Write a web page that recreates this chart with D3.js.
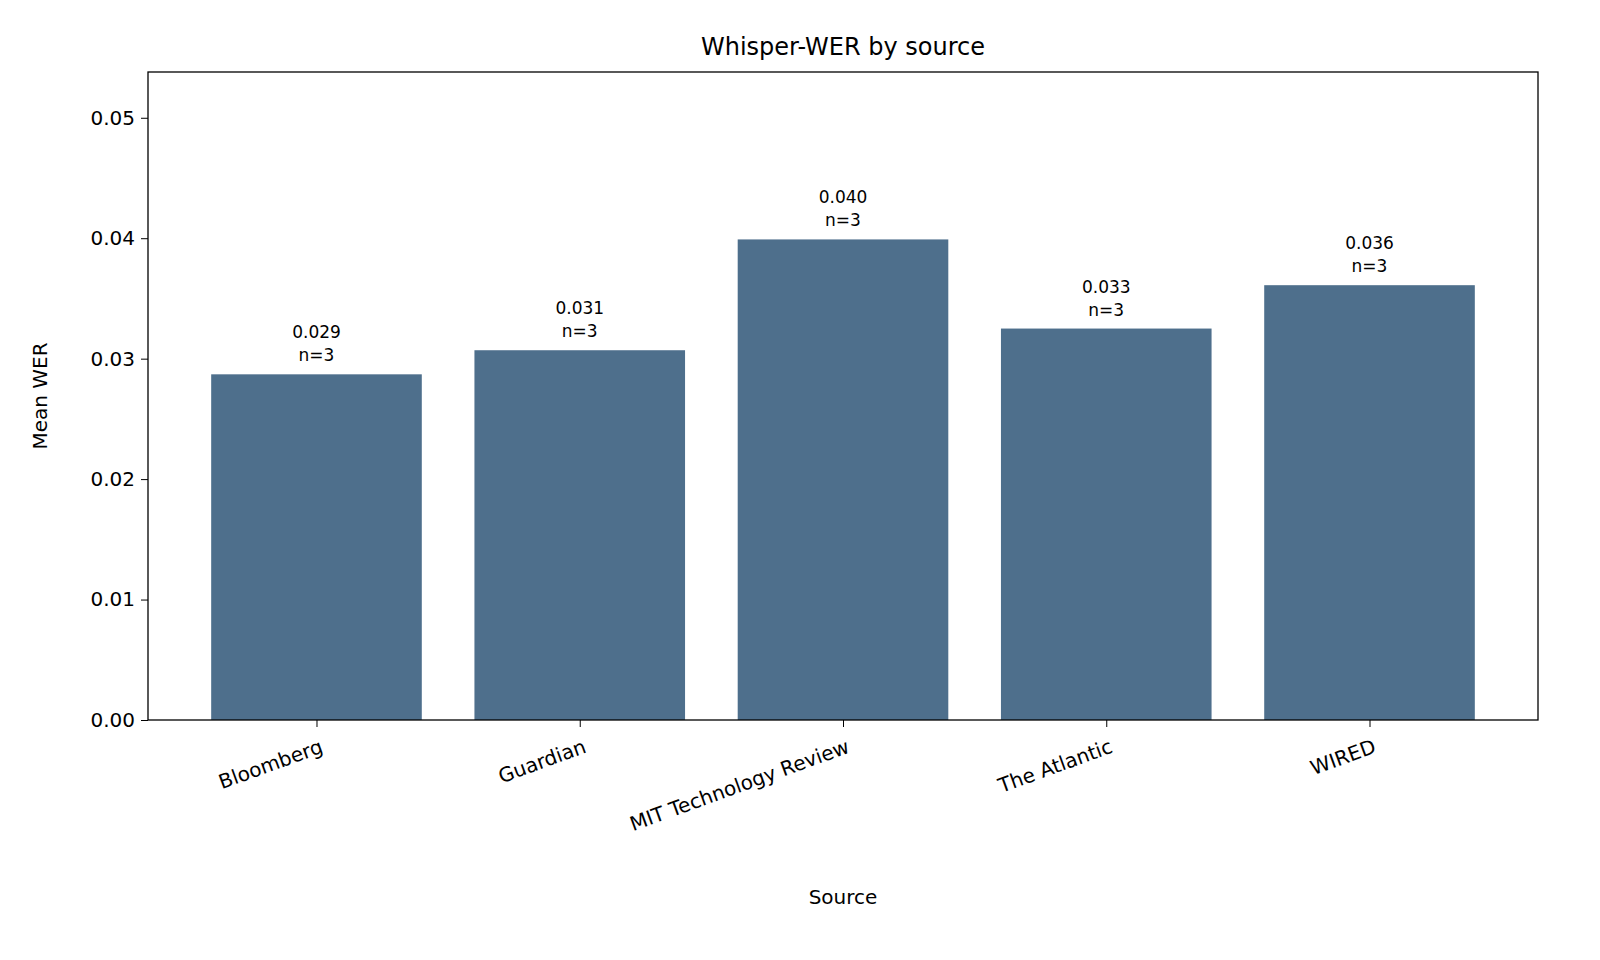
<!DOCTYPE html>
<html><head><meta charset="utf-8">
<script src="https://cdn.jsdelivr.net/npm/d3@7"></script>
<style>body{margin:0;background:#fff}text{font-family:"DejaVu Sans",sans-serif;fill:#000}</style>
</head><body><svg id="chart" width="1600" height="960"></svg>
<script>
const sources = ["Bloomberg", "Guardian", "MIT Technology Review", "The Atlantic", "WIRED"];
const meanWer = [0.0287, 0.0307, 0.0399, 0.0325, 0.0361];
const counts = [3, 3, 3, 3, 3];
const yTicks = [0, 0.01, 0.02, 0.03, 0.04, 0.05];

const m = {left: 148, right: 1538, top: 72, bottom: 720};
const svg = d3.select("#chart");
const x = d3.scaleLinear().domain([-0.64, sources.length - 1 + 0.64]).range([m.left, m.right]);
const y = d3.scaleLinear().domain([0, 0.0538]).range([m.bottom, m.top]);
const bw = x(0.8) - x(0);

svg.selectAll("rect.bar").data(meanWer).enter().append("rect")
  .attr("x", (d, i) => x(i) - bw / 2).attr("width", bw)
  .attr("y", d => y(d)).attr("height", d => y(0) - y(d))
  .attr("fill", "#4e6f8c");

const lab = svg.selectAll("g.lab").data(meanWer).enter().append("g")
  .attr("transform", (d, i) => `translate(${x(i)},${y(d) - 13})`);
lab.append("text").attr("text-anchor", "middle").attr("y", 0).style("font-size", "17px").text((d, i) => "n=" + counts[i]);
lab.append("text").attr("text-anchor", "middle").attr("y", -23).style("font-size", "17px").text(d => d.toFixed(3));

svg.append("g").attr("transform", `translate(${m.left},0)`)
  .call(d3.axisLeft(y).tickValues(yTicks).tickFormat(d => d.toFixed(2)).tickSize(7).tickPadding(6))
  .call(g => g.select(".domain").remove())
  .selectAll("text").style("font-size", "20px").attr("font-family", "DejaVu Sans");

const xa = svg.append("g").attr("transform", `translate(0,${m.bottom})`)
  .call(d3.axisBottom(x).tickValues(d3.range(sources.length)).tickFormat(i => sources[i]).tickSize(7));
xa.select(".domain").remove();
xa.selectAll("text").style("font-size", "20px").attr("text-anchor", "end")
  .attr("x", 0).attr("y", 0).attr("dy", "0.75em").attr("transform", "translate(2,18) rotate(-20)");

svg.append("rect").attr("x", m.left).attr("y", m.top).attr("width", m.right - m.left)
  .attr("height", m.bottom - m.top).attr("fill", "none").attr("stroke", "#000").attr("stroke-width", 1.3);

svg.append("text").attr("x", (m.left + m.right) / 2).attr("y", 55).attr("text-anchor", "middle")
  .style("font-size", "24px").text("Whisper-WER by source");
svg.append("text").attr("x", (m.left + m.right) / 2).attr("y", 904).attr("text-anchor", "middle")
  .style("font-size", "20px").text("Source");
svg.append("text").attr("transform", `translate(47,${(m.top + m.bottom) / 2}) rotate(-90)`)
  .attr("text-anchor", "middle").style("font-size", "20px").text("Mean WER");
</script></body></html>
